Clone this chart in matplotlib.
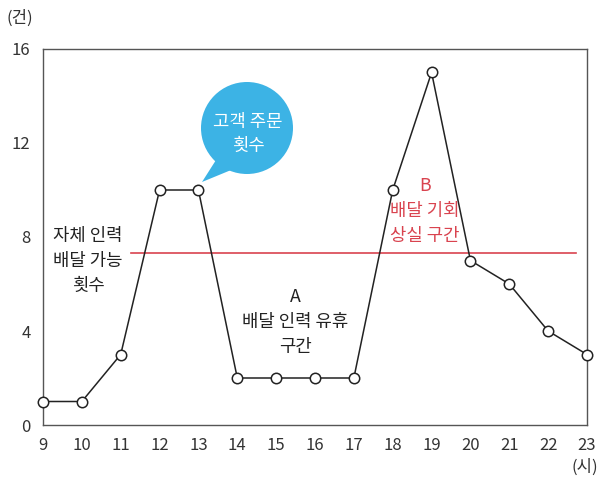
import matplotlib
matplotlib.use("Agg")
import matplotlib.pyplot as plt
from matplotlib.patches import Circle, Polygon

plt.rcParams['font.family'] = ['Noto Sans CJK KR', 'DejaVu Sans']

hours = [9, 10, 11, 12, 13, 14, 15, 16, 17, 18, 19, 20, 21, 22, 23]
orders = [1, 1, 3, 10, 10, 2, 2, 2, 2, 10, 15, 7, 6, 4, 3]
capacity = 7.3
capacity_span = [11.26, 22.72]
y_ticks = [0, 4, 8, 12, 16]

fig = plt.figure(figsize=(6.01, 4.78), dpi=100)
ax = fig.add_axes([43 / 601, 1 - 425 / 478, 544 / 601, 376 / 478])

ax.plot(capacity_span, [capacity, capacity], color='#d9434f', lw=1.2, zorder=2)
ax.plot(hours, orders, color='#222222', lw=1.1, marker='o', ms=7.5,
        mfc='white', mec='#222222', mew=1.1, zorder=3, clip_on=False)

ax.set_xlim(9, 23)
ax.set_ylim(0, 16)
ax.set_xticks(hours)
ax.set_yticks(y_ticks)
ax.tick_params(length=0, labelsize=12, colors='#333333', pad=9)
for s in ax.spines.values():
    s.set_color('#555555')
    s.set_linewidth(1.0)

fig.text(20 / 601, 1 - 18 / 478, '(건)', fontsize=12, color='#333333', ha='center', va='center')
fig.text(585 / 601, 1 - 467 / 478, '(시)', fontsize=12, color='#333333', ha='center', va='center')

# speech bubble and notes, placed in pixel coordinates
bub = fig.add_axes([0, 0, 1, 1], facecolor='none')
bub.set_xlim(0, 601)
bub.set_ylim(478, 0)
bub.axis('off')
bub.add_patch(Polygon([[216, 160], [202, 182], [236, 168]], closed=True, color='#3cb3e5', lw=0))
bub.add_patch(Circle((247, 128), 46, color='#3cb3e5', lw=0))
bub.text(248, 134, '고객 주문\n횟수', color='white', fontsize=12.8, ha='center', va='center', linespacing=1.45)

bub.text(88, 261, '자체 인력\n배달 가능\n횟수', color='#222222', fontsize=12.8, ha='center', va='center', linespacing=1.5)
bub.text(295, 322, 'A\n배달 인력 유휴\n구간', color='#222222', fontsize=12.8, ha='center', va='center', linespacing=1.5)
bub.text(425, 211, 'B\n배달 기회\n상실 구간', color='#d9434f', fontsize=12.8, ha='center', va='center', linespacing=1.5)

fig.savefig('out.png', dpi=100)
